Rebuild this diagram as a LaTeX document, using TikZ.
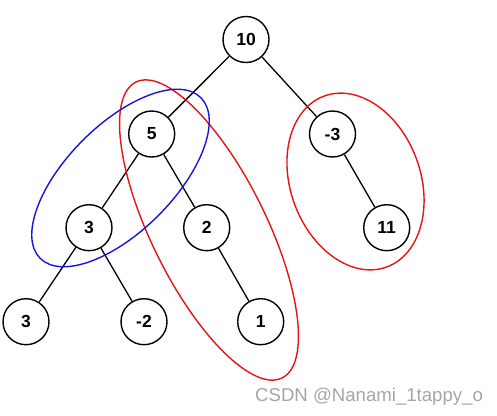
\documentclass[tikz,border=0pt]{standalone}
\usepackage{fontspec}
\setmainfont{Liberation Sans}
\begin{document}
\begin{tikzpicture}[x=1pt,y=-1pt,
  treenode/.style={circle,draw=black,line width=1.4pt,fill=white,minimum size=46pt,inner sep=0pt,font=\fontsize{17.5}{17.5}\selectfont\bfseries},
  edge/.style={draw=black,line width=1.3pt},
  grp/.style={line width=1.4pt}]
\useasboundingbox (0,0) rectangle (497,415);
\definecolor{wm}{RGB}{165,165,165}
\definecolor{rd}{RGB}{230,20,20}
\definecolor{bl}{RGB}{20,20,220}
% nodes
\node[treenode] (n10) at (246,39.5) {10};
\node[treenode] (n5) at (151.7,134) {5};
\node[treenode] (nm3) at (332.5,134) {-3};
\node[treenode] (n3a) at (89,227.7) {3};
\node[treenode] (n2) at (206.7,227.7) {2};
\node[treenode] (n11) at (386.7,227.7) {11};
\node[treenode] (n3b) at (26,321.7) {3};
\node[treenode] (nm2) at (144,321.7) {-2};
\node[treenode] (n1) at (260.7,321.7) {1};
% edges
\draw[edge] (n10) -- (n5);
\draw[edge] (n10) -- (nm3);
\draw[edge] (n5) -- (n3a);
\draw[edge] (n5) -- (n2);
\draw[edge] (n3a) -- (n3b);
\draw[edge] (n3a) -- (nm2);
\draw[edge] (n2) -- (n1);
\draw[edge] (nm3) -- (n11);
% groups
\draw[grp,draw=rd,rotate around={-63.7:(209,230)}] (209,230) ellipse [x radius=165,y radius=57.5];
\draw[grp,draw=bl,rotate around={45:(120.5,178)}] (120.5,178) ellipse [x radius=113.6,y radius=53.3];
\draw[grp,draw=rd,rotate around={-70:(355.5,181.5)}] (355.5,181.5) ellipse [x radius=91,y radius=65];
% watermark
\node[anchor=base west,inner sep=0pt,text=wm,font=\fontsize{18.6}{18.6}\selectfont] (wmk) at (255,401) {CSDN @Nanami\_1tappy\_o};
\end{tikzpicture}
\end{document}
